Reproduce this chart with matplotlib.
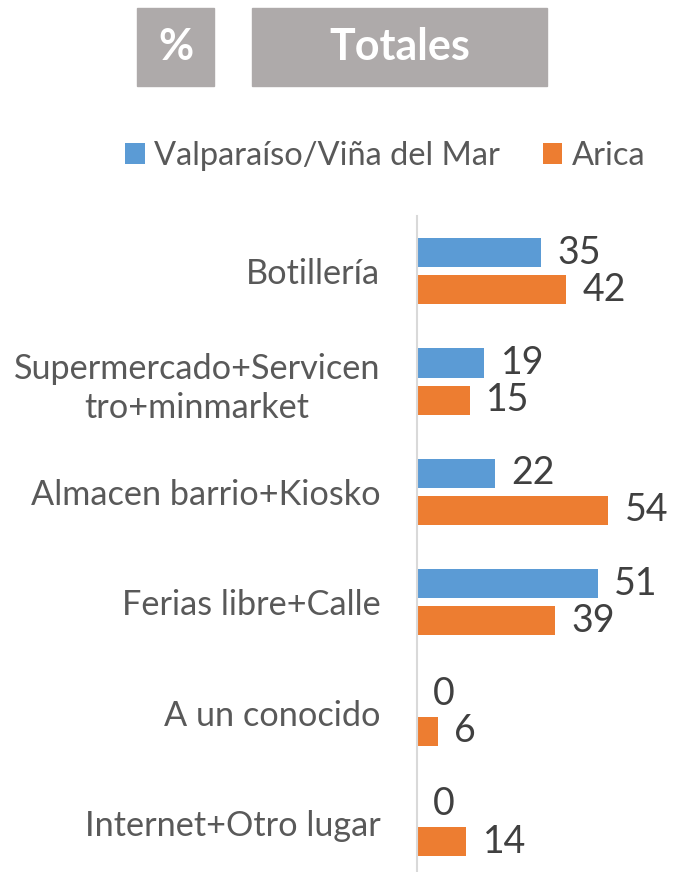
import matplotlib.pyplot as plt
import numpy as np
from matplotlib.patches import Rectangle

# channel categories, top to bottom
categorias = ["Botillería", "Supermercado+Servicen\ntro+minmarket",
              "Almacen barrio+Kiosko", "Ferias libre+Calle",
              "A un conocido", "Internet+Otro lugar"]
valparaiso = [35, 19, 22, 51, 0, 0]
arica = [42, 15, 54, 39, 6, 14]
series_names = ["Valparaíso/Viña del Mar", "Arica"]

azul = "#5b9bd5"
naranja = "#ed7d31"
gris_caja = "#aeaaaa"

plt.rcParams['font.family'] = ['Lato', 'DejaVu Sans']

W, H = 682, 872
fig = plt.figure(figsize=(W / 100, H / 100), dpi=100)

# axes placed in pixel terms: axis line at x=416, top at y=216
ax_left, ax_top = 416.5, 216
ax = fig.add_axes([ax_left / W, 0, 1 - ax_left / W, (H - ax_top) / H])

y = np.arange(len(categorias))
h = 0.263
off = 0.168
b1 = ax.barh(y - off, valparaiso, height=h, color=azul, label=series_names[0])
b2 = ax.barh(y + off, arica, height=h, color=naranja, label=series_names[1])

for bars, vals in ((b1, valparaiso), (b2, arica)):
    for rect, v in zip(bars, vals):
        ax.annotate(str(v), (v, rect.get_y() + rect.get_height() / 2),
                    xytext=(12, 0), textcoords="offset points",
                    ha="left", va="center", fontsize=27, color="#404040")

ax.set_xlim(0, (W - ax_left) / 3.55)
ax.set_ylim((H - 271) / 110.4, -0.5)
ax.set_yticks(y)
ax.set_yticklabels(categorias, fontsize=24.7, color="#595959",
                   multialignment="center", linespacing=1.3)
ax.tick_params(axis="y", length=0, pad=26)
ax.set_xticks([])
for s in ("top", "right", "bottom"):
    ax.spines[s].set_visible(False)
ax.spines["left"].set_color("#d9d9d9")
ax.spines["left"].set_linewidth(1.5)

# legend
fig.legend(handles=[b1, b2], loc="center left",
           bbox_to_anchor=(125 / W, 1 - 156 / H), ncol=2, frameon=False,
           fontsize=23.5, labelcolor="#595959", handlelength=0.6,
           handleheight=0.6, handletextpad=0.3, columnspacing=1.3,
           borderaxespad=0, borderpad=0)

# header boxes
for x0, x1, txt in ((137, 214, "%"), (252, 547, "Totales")):
    fig.patches.append(Rectangle((x0 / W, 1 - 86 / H), (x1 - x0) / W, 78 / H,
                                 transform=fig.transFigure, color=gris_caja))
    fig.text((x0 + x1) / 2 / W, 1 - 47 / H, txt, ha="center", va="center",
             fontsize=31, fontweight="bold", color="white")

fig.savefig("out.png", dpi=100)
